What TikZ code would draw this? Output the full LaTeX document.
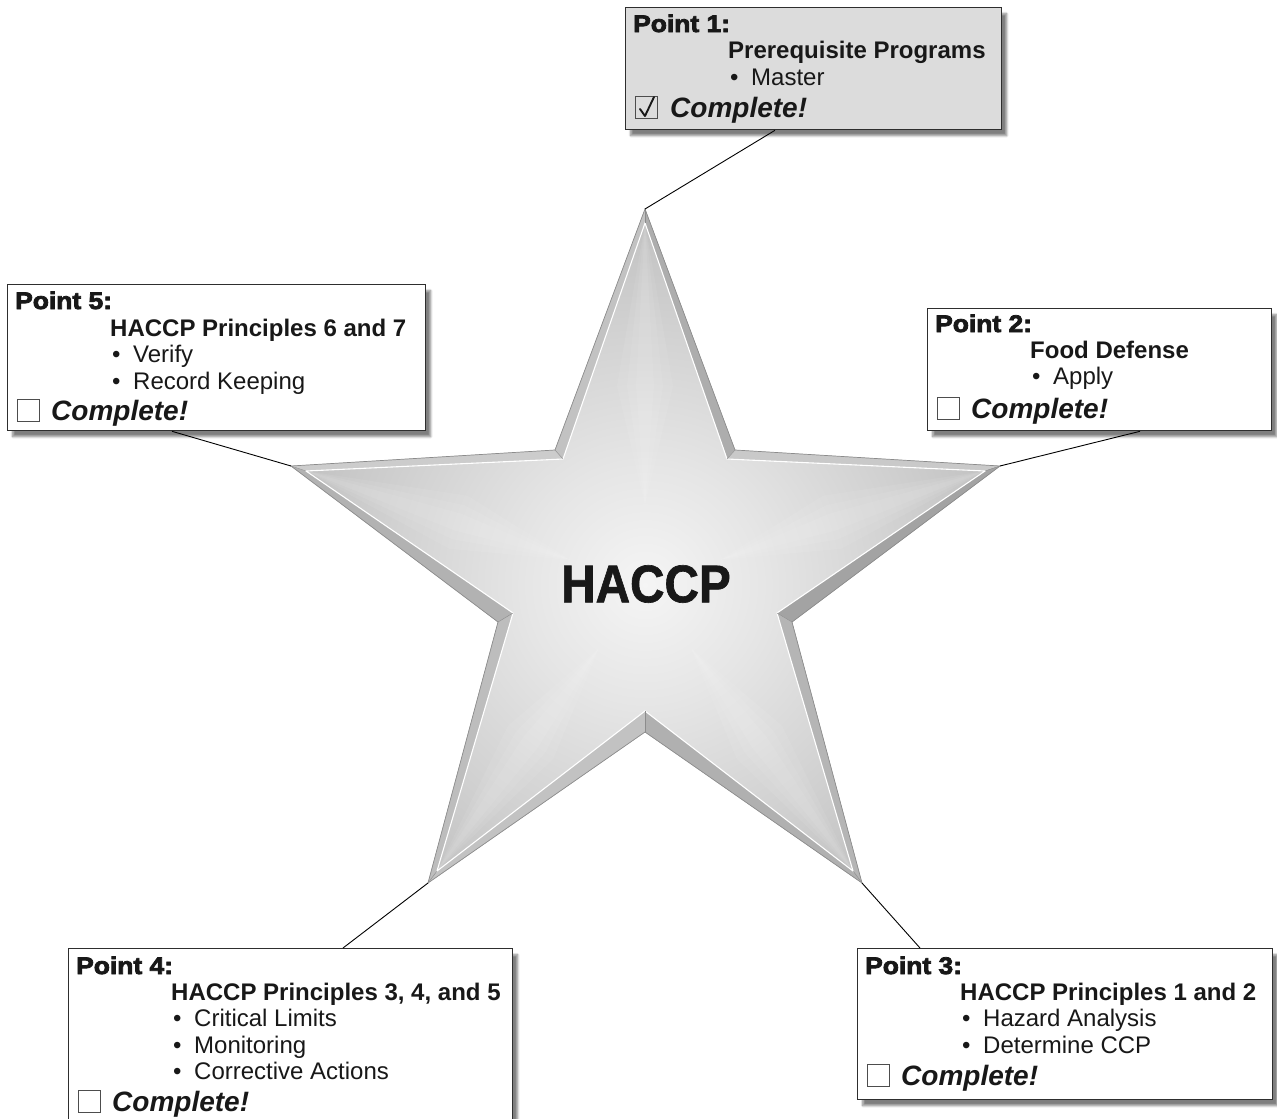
\documentclass[tikz,border=0pt]{standalone}
\usepackage{fontspec}
\setmainfont{Liberation Sans}
\newfontfamily\heavyfont{Liberation Sans}[BoldFeatures={FakeBold=3.2,FakeStretch=1.1}]
\newfontfamily\starfont{Liberation Sans}[BoldFeatures={FakeBold=1.2,FakeStretch=0.9}]
\usetikzlibrary{calc,shadows.blur}

\definecolor{ink}{HTML}{181818}
\definecolor{boxline}{HTML}{2E2E2E}
\definecolor{cardgray}{HTML}{DCDCDC}
\definecolor{rim}{HTML}{8C8C8C}

% silver glow for the face of the star
\pgfdeclareradialshading{starglow}{\pgfpoint{0bp}{0bp}}{%
  color(0bp)=(white!96!black);
  color(7bp)=(white!90!black);
  color(16bp)=(white!81!black);
  color(25bp)=(white!72!black);
  color(50bp)=(white!72!black)}

\tikzset{
  pbox/.style={draw=boxline, line width=1.3pt, inner sep=0pt, anchor=north west,
    blur shadow={shadow xshift=5pt, shadow yshift=-6pt, shadow blur steps=10, shadow opacity=50}},
  txt/.style={anchor=base west, inner sep=0pt, text=ink},
  ptitle/.style={txt, font=\fontsize{24}{24}\heavyfont\bfseries},
  phead/.style={txt, font=\fontsize{24}{24}\selectfont\bfseries},
  pitem/.style={txt, font=\fontsize{24}{24}\selectfont},
  pdone/.style={txt, font=\fontsize{28}{28}\selectfont\bfseries\itshape},
  cbox/.style={draw=boxline!85, line width=1pt, minimum size=22pt, inner sep=0pt, anchor=south west},
  conn/.style={draw=black, line width=0.9pt},
  facet/.style={fill=#1, draw=#1, line width=0.3pt}
}

\begin{document}
\begin{tikzpicture}[x=1pt,y=-1pt]
\useasboundingbox (0,0) rectangle (1277,1119);

% ---- star outline (O) and inner face (F) ----
\coordinate (C) at (645,585);
\coordinate (O0) at (645,209);  \coordinate (F0) at (645,223);
\coordinate (O1) at (735,450);  \coordinate (F1) at (727,459);
\coordinate (O2) at (1000,466); \coordinate (F2) at (985,471);
\coordinate (O3) at (792,622);  \coordinate (F3) at (777,613);
\coordinate (O4) at (862,883);  \coordinate (F4) at (853,871);
\coordinate (O5) at (645,732);  \coordinate (F5) at (645,711);
\coordinate (O6) at (428,883);  \coordinate (F6) at (437,871);
\coordinate (O7) at (498,622);  \coordinate (F7) at (513,613);
\coordinate (O8) at (291,466);  \coordinate (F8) at (306,471);
\coordinate (O9) at (555,450);  \coordinate (F9) at (563,459);

% bevel facets
\path[facet=white!68!black] (O0)--(O1)--(F1)--(F0)--cycle;
\path[facet=white!79!black] (O1)--(O2)--(F2)--(F1)--cycle;
\path[facet=white!64!black] (O2)--(O3)--(F3)--(F2)--cycle;
\path[facet=white!71!black] (O3)--(O4)--(F4)--(F3)--cycle;
\path[facet=white!69!black] (O4)--(O5)--(F5)--(F4)--cycle;
\path[facet=white!76!black] (O5)--(O6)--(F6)--(F5)--cycle;
\path[facet=white!74!black] (O6)--(O7)--(F7)--(F6)--cycle;
\path[facet=white!70!black] (O7)--(O8)--(F8)--(F7)--cycle;
\path[facet=white!80!black] (O8)--(O9)--(F9)--(F8)--cycle;
\path[facet=white!76!black] (O9)--(O0)--(F0)--(F9)--cycle;

% glowing face with soft light ridges along the arms
\begin{scope}
  \clip (F0)--(F1)--(F2)--(F3)--(F4)--(F5)--(F6)--(F7)--(F8)--(F9)--cycle;
  \shade[shading=starglow] (C) circle (430);
  \foreach \t in {0,2,4,6,8}{
    \foreach \w in {28,18,9}{
      \fill[white, opacity=0.07]
        ($(C)!0.22!(F\t)$) -- ($($(C)!0.55!(F\t)$)!\w pt!90:(F\t)$) -- (F\t)
        -- ($($(C)!0.55!(F\t)$)!\w pt!-90:(F\t)$) -- cycle;
    }
  }
\end{scope}
\draw[white, line width=1.1pt, line join=miter]
  (F0)--(F1)--(F2)--(F3)--(F4)--(F5)--(F6)--(F7)--(F8)--(F9)--cycle;
\foreach \i in {0,...,9} \draw[white!55!black, line width=0.4pt] (O\i)--(F\i);
\draw[rim, line width=0.7pt, line join=miter]
  (O0)--(O1)--(O2)--(O3)--(O4)--(O5)--(O6)--(O7)--(O8)--(O9)--cycle;

\node[font=\fontsize{53}{53}\starfont\bfseries, text=ink, inner sep=0pt] (haccp) at (646,584) {HACCP};

% ---- cards ----
\node[pbox, fill=cardgray, minimum width=376pt, minimum height=122pt] (box1) at (625,7) {};
\node[pbox, fill=white, minimum width=344pt, minimum height=122pt] (box2) at (927,308) {};
\node[pbox, fill=white, minimum width=415pt, minimum height=151pt] (box3) at (857,948) {};
\node[pbox, fill=white, minimum width=444pt, minimum height=200pt] (box4) at (68,948) {};
\node[pbox, fill=white, minimum width=418pt, minimum height=146pt] (box5) at (7,284) {};

% ---- connectors from the cards to the star tips ----
\draw[conn] ($(box1.south west)+(150,0)$) -- (O0);
\draw[conn] ($(box2.south west)+(213,0)$) -- (O2);
\draw[conn] ($(box3.north west)+(63,0)$) -- (O4);
\draw[conn] ($(box4.north west)+(275,0)$) -- (O6);
\draw[conn] ($(box5.south west)+(165,0)$) -- (O8);

% card 1
\node[ptitle] (t1) at (633,32) {Point 1:};
\node[phead] (h1) at (728,58) {Prerequisite Programs};
\node[pitem] (b1a) at (730,85) {•};
\node[pitem] (i1a) at (751,85) {Master};
\node[cbox] (c1) at (635,119) {};
\draw[ink, line width=1.9pt, line cap=round, line join=round]
  ($(c1.south west)+(5,-10)$) -- ($(c1.south west)+(10,-3)$) -- ($(c1.south west)+(19,-22)$);
\node[pdone] (d1) at (670,117) {Complete!};

% card 2
\node[ptitle] (t2) at (935,332) {Point 2:};
\node[phead] (h2) at (1030,358) {Food Defense};
\node[pitem] (b2a) at (1032,384) {•};
\node[pitem] (i2a) at (1053,384) {Apply};
\node[cbox] (c2) at (937,420) {};
\node[pdone] (d2) at (971,418) {Complete!};

% card 3
\node[ptitle] (t3) at (865,974) {Point 3:};
\node[phead] (h3) at (960,1000) {HACCP Principles 1 and 2};
\node[pitem] (b3a) at (962,1026) {•};
\node[pitem] (i3a) at (983,1026) {Hazard Analysis};
\node[pitem] (b3b) at (962,1053) {•};
\node[pitem] (i3b) at (983,1053) {Determine CCP};
\node[cbox] (c3) at (867,1087) {};
\node[pdone] (d3) at (901,1085) {Complete!};

% card 4
\node[ptitle] (t4) at (76,974) {Point 4:};
\node[phead] (h4) at (171,1000) {HACCP Principles 3, 4, and 5};
\node[pitem] (b4a) at (173,1026) {•};
\node[pitem] (i4a) at (194,1026) {Critical Limits};
\node[pitem] (b4b) at (173,1053) {•};
\node[pitem] (i4b) at (194,1053) {Monitoring};
\node[pitem] (b4c) at (173,1079) {•};
\node[pitem] (i4c) at (194,1079) {Corrective Actions};
\node[cbox] (c4) at (78,1113) {};
\node[pdone] (d4) at (112,1111) {Complete!};

% card 5
\node[ptitle] (t5) at (15,309) {Point 5:};
\node[phead] (h5) at (110,336) {HACCP Principles 6 and 7};
\node[pitem] (b5a) at (112,362) {•};
\node[pitem] (i5a) at (133,362) {Verify};
\node[pitem] (b5b) at (112,389) {•};
\node[pitem] (i5b) at (133,389) {Record Keeping};
\node[cbox] (c5) at (17,422) {};
\node[pdone] (d5) at (51,420) {Complete!};
\end{tikzpicture}
\end{document}
